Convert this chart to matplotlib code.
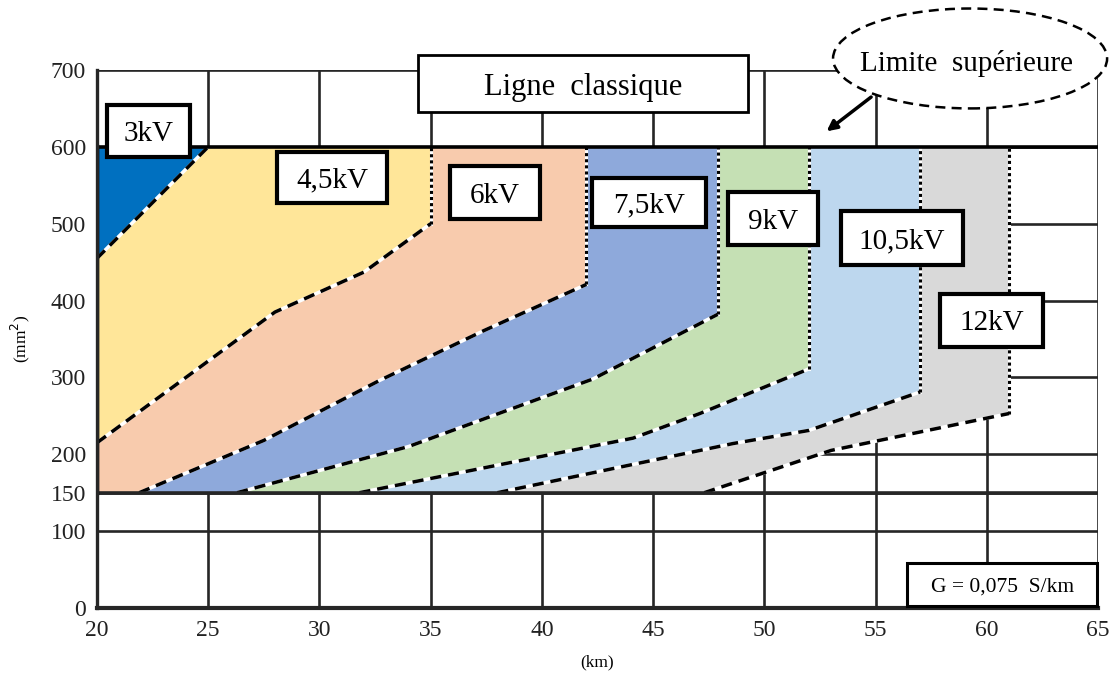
import matplotlib
matplotlib.use("Agg")
import matplotlib.pyplot as plt
from matplotlib.patches import Ellipse, Rectangle

# ---------------- data ----------------
x_ticks = [20, 25, 30, 35, 40, 45, 50, 55, 60, 65]
y_ticks = [0, 100, 150, 200, 300, 400, 500, 600, 700]

labels = ["3kV", "4,5kV", "6kV", "7,5kV", "9kV", "10,5kV", "12kV"]
colors = ["#0070C0", "#FFE699", "#F8CBAD", "#8EA9DB", "#C5E0B4", "#BDD7EE", "#D9D9D9"]

# lower boundary of each voltage zone (km, mm2)
b_3kV_x = [20, 25];                      b_3kV_y = [455, 600]
b_45kV_x = [20, 28, 32, 35];             b_45kV_y = [215, 385, 437, 500]
b_6kV_x = [21.9, 27.5, 32.7, 37.4, 42];  b_6kV_y = [150, 218, 296, 361, 421]
b_75kV_x = [26.3, 34, 42.3, 47.9];       b_75kV_y = [150, 210, 298, 382]
b_9kV_x = [31.8, 44.1, 47.1, 52];        b_9kV_y = [150, 221, 253, 311]
b_105kV_x = [38, 48.6, 52, 57];          b_105kV_y = [150, 214, 231, 281]
b_12kV_x = [47.3, 53, 61];               b_12kV_y = [150, 205, 253]

bounds_x = [b_3kV_x, b_45kV_x, b_6kV_x, b_75kV_x, b_9kV_x, b_105kV_x, b_12kV_x]
bounds_y = [b_3kV_y, b_45kV_y, b_6kV_y, b_75kV_y, b_9kV_y, b_105kV_y, b_12kV_y]

y_low, y_high = 150, 600

# ---------------- figure ----------------
fig = plt.figure(figsize=(11.12, 6.75), dpi=100)
ax = fig.add_axes([0.0872, 0.0993, 0.9002, 0.797])
ax.set_xlim(20, 65)
ax.set_ylim(0, 700)
serif = "Liberation Serif"
gc = "#262626"

# grid
for xv in x_ticks:
    ax.axvline(xv, color=gc, lw=1.9, zorder=1)
for yv in y_ticks:
    ax.axhline(yv, color=gc, lw=1.9, zorder=1)

# fills (draw from last zone to first)
for i in range(len(labels) - 1, -1, -1):
    bx, by = bounds_x[i], bounds_y[i]
    px, py = [], []
    if bx[0] > 20:
        px.append(20); py.append(y_low)
    px += bx; py += by
    if by[-1] < y_high:
        px.append(bx[-1]); py.append(y_high)
    px.append(20); py.append(y_high)
    ax.fill(px, py, color=colors[i], lw=0, zorder=2)

# boundaries
for i in range(len(labels)):
    bx, by = bounds_x[i], bounds_y[i]
    ax.plot(bx, by, color="white", lw=2.5, zorder=3, solid_capstyle="butt")
    ax.plot(bx, by, color="black", lw=2.5, zorder=4, linestyle=(0, (3.2, 2.0)))
    if by[-1] < y_high:
        ax.plot([bx[-1], bx[-1]], [by[-1], y_high], color="white", lw=2.2, zorder=3)
        ax.plot([bx[-1], bx[-1]], [by[-1], y_high], color="black", lw=2.2, zorder=4,
                linestyle=(0, (1, 1)))

# thick lines at 150 and 600
ax.plot([20, 65], [y_high, y_high], color="black", lw=2.6, zorder=5)
ax.plot([20, 65], [y_low, y_low], color=gc, lw=2.6, zorder=5)
ax.plot([20, 20], [y_low, y_high], color="black", lw=3.2, zorder=5)

# spines
for s in ax.spines.values():
    s.set_visible(False)
ax.plot([20, 65], [0, 0], color=gc, lw=3.0, zorder=5, clip_on=False)
ax.plot([20, 20], [0, 700], color=gc, lw=2.4, zorder=5, clip_on=False)

# ticks
ax.set_xticks(x_ticks)
ax.set_yticks(y_ticks)
ax.set_xticklabels([str(v) for v in x_ticks], fontfamily=serif, fontsize=17, color="#222222")
ax.set_yticklabels([str(v) for v in y_ticks], fontfamily=serif, fontsize=17, color="#222222")
ax.tick_params(axis="x", length=0, pad=9)
ax.tick_params(axis="y", length=0, pad=8)

ax.set_xlabel("(km)", fontfamily=serif, fontsize=12.5, labelpad=9)
ax.set_ylabel("(mm$^2$)", fontfamily=serif, fontsize=12.5, labelpad=13)


def box(x0, x1, y0, y1, text, fs, lw):
    ax.add_patch(Rectangle((x0, y0), x1 - x0, y1 - y0, fc="white", ec="black",
                           lw=lw, zorder=8, clip_on=False, joinstyle="miter"))
    ax.text((x0 + x1) / 2, (y0 + y1) / 2, text, fontfamily=serif, fontsize=fs,
            ha="center", va="center_baseline", zorder=9)


# zone labels
box(20.45, 24.18, 587, 654, labels[0], 21, 3.0)
box(28.09, 33.04, 527, 593, labels[1], 21, 3.0)
box(35.87, 39.92, 506, 575, labels[2], 21, 3.0)
box(42.26, 47.38, 496, 559, labels[3], 21, 3.0)
box(48.37, 52.42, 472, 541, labels[4], 21, 3.0)
box(53.45, 58.94, 446, 517, labels[5], 21, 3.0)
box(57.90, 62.54, 340, 409, labels[6], 21, 3.0)

box(34.43, 49.27, 645, 719.5, "Ligne  classique", 22, 2.0)
box(56.42, 64.96, 2.6, 58.5, "G = 0,075  S/km", 15.5, 2.2)

# upper limit annotation
ell = Ellipse((59.25, 715), 12.32, 130, fc="white", ec="black", lw=1.8,
              linestyle=(0, (4, 2.5)), zorder=9, clip_on=False)
ax.add_patch(ell)
ax.text(59.1, 712, "Limite  supérieure", fontfamily=serif, fontsize=21,
        ha="center", va="center_baseline", zorder=10, clip_on=False)
ax.annotate("", xy=(52.7, 618), xytext=(54.9, 667),
            arrowprops=dict(arrowstyle="-|>,head_length=0.6,head_width=0.3",
                            color="black", lw=2.5), zorder=10)

fig.savefig("out.png", dpi=100)
